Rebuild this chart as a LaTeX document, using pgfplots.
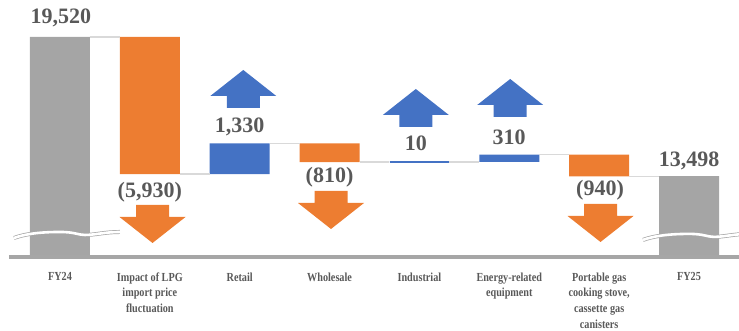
\documentclass[border=0pt]{standalone}
\usepackage{pgfplots}
\pgfplotsset{compat=1.18}
\usepackage{fontspec}
\setmainfont{Liberation Serif}
\newfontfamily\catfont[FakeStretch=0.83]{Liberation Serif}
\definecolor{cgray}{HTML}{A5A5A5}
\definecolor{corange}{HTML}{ED7D31}
\definecolor{cblue}{HTML}{4472C4}
\definecolor{ctext}{HTML}{595959}
\definecolor{cline}{HTML}{D9D9D9}
\definecolor{caxis}{HTML}{A6A6A6}
\pgfplotsset{wfgeom/.style={scale only axis, width=730pt, height=257pt,
  xmin=-0.567, xmax=7.556, ymin=10000, ymax=21121, at={(9pt,74pt)}, anchor=south west}}
\tikzset{lab/.style={font=\bfseries\fontsize{22}{24}\selectfont, text=ctext, inner sep=0pt},
  conn/.style={cline, line width=1.5pt}}
\newcommand{\uparr}[2]{\fill[cblue] (axis cs:#1,#2) -- ++(33pt,-26pt) -- ++(-16.5pt,0pt) -- ++(0pt,-12pt) -- ++(-33pt,0pt) -- ++(0pt,12pt) -- ++(-16.5pt,0pt) -- cycle;}
\newcommand{\downarr}[2]{\fill[corange] (axis cs:#1,#2) -- ++(33pt,26pt) -- ++(-16.5pt,0pt) -- ++(0pt,12pt) -- ++(-33pt,0pt) -- ++(0pt,-12pt) -- ++(-16.5pt,0pt) -- cycle;}
\newcommand{\squiggle}[2]{%
  \coordinate (sq) at (axis cs:#1,#2);
  \draw[caxis, line width=4pt, shift={(sq)}] (-46pt,-3pt) .. controls (-35pt,1pt) and (-20pt,3pt) .. (0pt,3pt) .. controls (15pt,3pt) and (18pt,0pt) .. (25pt,0pt) .. controls (35pt,0pt) and (45pt,3pt) .. (60pt,3pt);
  \draw[white, line width=2.6pt, shift={(sq)}] (-46pt,-3pt) .. controls (-35pt,1pt) and (-20pt,3pt) .. (0pt,3pt) .. controls (15pt,3pt) and (18pt,0pt) .. (25pt,0pt) .. controls (35pt,0pt) and (45pt,3pt) .. (60pt,3pt);}
\begin{document}
\begin{tikzpicture}
\useasboundingbox (0,0) rectangle (739pt,331pt);
\begin{axis}[wfgeom, ybar stacked, bar width=0.667, hide y axis,
  axis x line=bottom, x axis line style={-, line width=3.5pt, color=caxis},
  xtick={0,1,2,3,4,5,6,7}, major tick length=0pt,
  xticklabels={FY24, {Impact of LPG\\import price\\fluctuation}, Retail, Wholesale, Industrial,
    {Energy-related\\equipment}, {Portable gas\\cooking stove,\\cassette gas\\canisters}, FY25},
  xticklabel style={font=\catfont\bfseries\fontsize{12.3}{15.8}\selectfont, text=ctext, align=center, anchor=north, yshift=-12pt},
  axis on top]
\addplot[draw=none, fill=none] coordinates {(0,0)(1,13590)(2,13590)(3,14110)(4,14110)(5,14120)(6,13490)(7,0)};
\addplot[draw=none, fill=cgray] coordinates {(0,19520)(1,0)(2,0)(3,0)(4,0)(5,0)(6,0)(7,13498)};
\addplot[draw=none, fill=corange] coordinates {(0,0)(1,5930)(2,0)(3,810)(4,0)(5,0)(6,940)(7,0)};
\addplot[draw=none, fill=cblue] coordinates {(0,0)(1,0)(2,1330)(3,0)(4,10)(5,310)(6,0)(7,0)};
\end{axis}
\begin{axis}[wfgeom, hide axis, clip=false]
\addplot[conn] coordinates {(0.334,19520)(0.666,19520)};
\addplot[conn] coordinates {(1.334,13590)(1.666,13590)};
\addplot[conn] coordinates {(2.334,14920)(2.666,14920)};
\addplot[conn] coordinates {(3.334,14110)(3.666,14110)};
\addplot[conn] coordinates {(4.334,14120)(4.666,14120)};
\addplot[conn] coordinates {(5.334,14430)(5.666,14430)};
\addplot[conn] coordinates {(6.334,13490)(6.666,13490)};
\addplot[cblue, line width=1.6pt] coordinates {(3.667,14115)(4.333,14115)};
\squiggle{0}{10953}
\squiggle{7}{10870}
\uparr{2.04}{18092}
\uparr{3.96}{17270}
\uparr{5.01}{17703}
\downarr{1.03}{10606}
\downarr{3.016}{11212}
\downarr{6.015}{10650}
\node[lab] at (axis cs:0.01,20342) {19,520};
\node[lab] at (axis cs:1.0,12813) {(5,930)};
\node[lab] at (axis cs:2.0,15626) {1,330};
\node[lab] at (axis cs:3.0,13462) {(810)};
\node[lab] at (axis cs:3.96,14933) {10};
\node[lab] at (axis cs:4.997,15193) {310};
\node[lab] at (axis cs:6.01,12900) {(940)};
\node[lab] at (axis cs:7.0,14155) {13,498};
\end{axis}
\end{tikzpicture}
\end{document}
